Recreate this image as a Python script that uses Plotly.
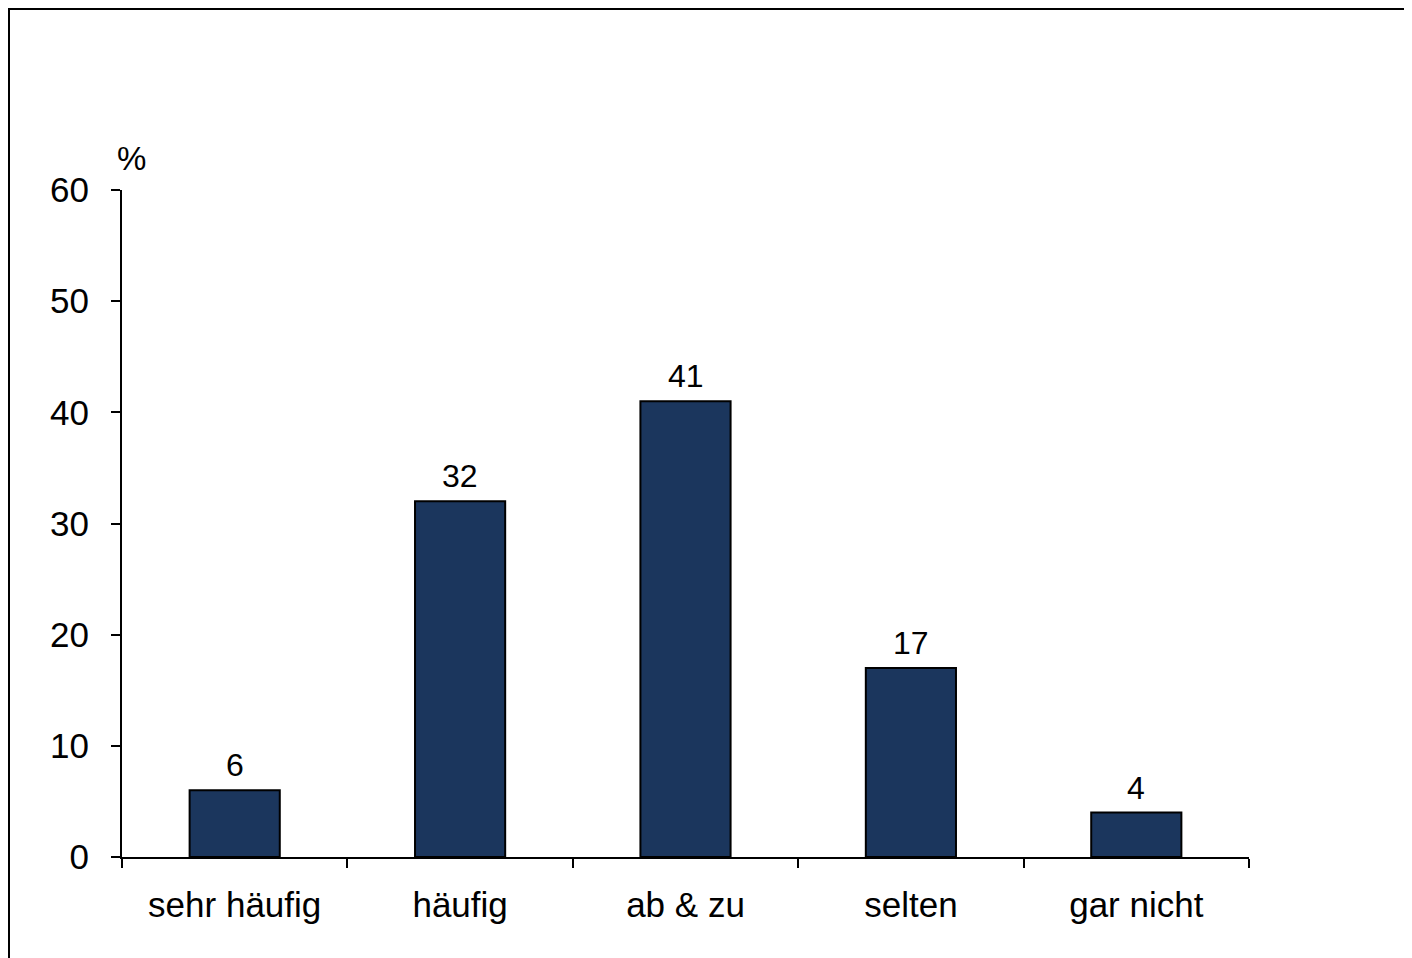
import plotly.graph_objects as go

categories = ["sehr häufig", "häufig", "ab & zu", "selten", "gar nicht"]
values = [6, 32, 41, 17, 4]
y_ticks = [0, 10, 20, 30, 40, 50, 60]

W, H = 1412, 958
OFF = 8  # page body margin
L, R, T, B = 122 - OFF, 171, 190 - OFF, 109
pw, ph = W - L - R, H - T - B

def px_x(p):
    return (p - OFF - L) / pw

def px_y(p):
    return (H - B - (p - OFF)) / ph

fig = go.Figure()
fig.add_trace(go.Bar(
    x=categories, y=values, width=0.4,
    marker=dict(color="#1b365d", line=dict(color="black", width=2)),
    hoverinfo="skip",
))

for c, v in zip(categories, values):
    fig.add_annotation(x=c, y=v, text=str(v), showarrow=False,
                       yanchor="bottom", yshift=5,
                       font=dict(family="Liberation Sans, Arial", size=32, color="black"))

fig.add_annotation(xref="paper", yref="paper", x=px_x(131), y=px_y(158),
                   text="%", showarrow=False, xanchor="center", yanchor="middle",
                   font=dict(family="Liberation Sans, Arial", size=33, color="black"))

# outer frame (figure border)
fig.add_shape(type="rect", xref="paper", yref="paper",
              x0=px_x(9), x1=px_x(1440), y0=px_y(990), y1=px_y(9),
              line=dict(color="black", width=2), fillcolor="rgba(0,0,0,0)", layer="below")

fig.update_layout(
    width=W, height=H,
    margin=dict(l=L, r=R, t=T, b=B, pad=0),
    paper_bgcolor="white", plot_bgcolor="white",
    showlegend=False,
    font=dict(family="Liberation Sans, Arial", size=34, color="black"),
    bargap=0.6,
)
fig.update_xaxes(
    type="category", range=[-0.5, 4.5],
    showline=True, linecolor="black", linewidth=2,
    ticks="outside", tickson="boundaries", ticklen=9, tickwidth=2, tickcolor="black",
    showgrid=False, zeroline=False,
    tickfont=dict(size=35), ticklabelstandoff=16,
)
fig.update_yaxes(
    range=[0, 60], tickvals=y_ticks,
    showline=True, linecolor="black", linewidth=2,
    ticks="outside", ticklen=9, tickwidth=2, tickcolor="black",
    showgrid=False, zeroline=False,
    tickfont=dict(size=35), ticklabelstandoff=15,
)

fig.write_html("out.html")
